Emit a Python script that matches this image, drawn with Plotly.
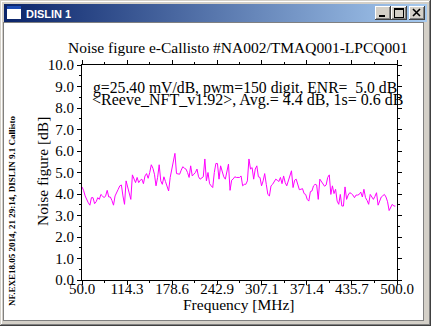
import base64
import plotly.graph_objects as go

# Receiver channel frequencies [MHz]
FREQ_MHZ = [
    50.0, 52.25, 54.5, 56.75, 59.0, 61.25, 63.5, 65.75,
    68.0, 70.25, 72.5, 74.75, 77.0, 79.25, 81.5, 83.75,
    86.0, 88.25, 90.5, 92.75, 95.0, 97.25, 99.5, 101.75,
    104.0, 106.25, 108.5, 110.75, 113.0, 115.25, 117.5, 119.75,
    122.0, 124.25, 126.5, 128.75, 131.0, 133.25, 135.5, 137.75,
    140.0, 142.25, 144.5, 146.75, 149.0, 151.25, 153.5, 155.75,
    158.0, 160.25, 162.5, 164.75, 167.0, 169.25, 171.5, 173.75,
    176.0, 178.25, 180.5, 182.75, 185.0, 187.25, 189.5, 191.75,
    194.0, 196.25, 198.5, 200.75, 203.0, 205.25, 207.5, 209.75,
    212.0, 214.25, 216.5, 218.75, 221.0, 223.25, 225.5, 227.75,
    230.0, 232.25, 234.5, 236.75, 239.0, 241.25, 243.5, 245.75,
    248.0, 250.25, 252.5, 254.75, 257.0, 259.25, 261.5, 263.75,
    266.0, 268.25, 270.5, 272.75, 275.0, 277.25, 279.5, 281.75,
    284.0, 286.25, 288.5, 290.75, 293.0, 295.25, 297.5, 299.75,
    302.0, 304.25, 306.5, 308.75, 311.0, 313.25, 315.5, 317.75,
    320.0, 322.25, 324.5, 326.75, 329.0, 331.25, 333.5, 335.75,
    338.0, 340.25, 342.5, 344.75, 347.0, 349.25, 351.5, 353.75,
    356.0, 358.25, 360.5, 362.75, 365.0, 367.25, 369.5, 371.75,
    374.0, 376.25, 378.5, 380.75, 383.0, 385.25, 387.5, 389.75,
    392.0, 394.25, 396.5, 398.75, 401.0, 403.25, 405.5, 407.75,
    410.0, 412.25, 414.5, 416.75, 419.0, 421.25, 423.5, 425.75,
    428.0, 430.25, 432.5, 434.75, 437.0, 439.25, 441.5, 443.75,
    446.0, 448.25, 450.5, 452.75, 455.0, 457.25, 459.5, 461.75,
    464.0, 466.25, 468.5, 470.75, 473.0, 475.25, 477.5, 479.75,
    482.0, 484.25, 486.5, 488.75, 491.0, 493.25, 495.5, 497.75,
]

# Measured noise figure per channel [dB]
NF_DB = [
    4.33, 4.17, 3.91, 3.70, 3.59, 3.48, 3.83, 3.83,
    3.55, 3.64, 3.83, 3.75, 3.98, 3.91, 3.83, 3.91,
    4.17, 3.86, 3.86, 3.70, 3.48, 3.91, 4.11, 4.22,
    4.38, 4.42, 3.91, 3.52, 4.61, 4.30, 3.98, 3.75,
    4.89, 4.69, 4.53, 4.77, 4.53, 4.64, 4.69, 4.48,
    4.84, 4.95, 4.73, 5.00, 5.36, 5.20, 4.92, 4.38,
    4.77, 5.36, 4.61, 4.45, 4.80, 4.58, 4.33, 4.14,
    4.77, 5.16, 5.55, 5.89, 4.95, 4.92, 4.92, 5.11,
    5.27, 5.20, 5.16, 5.00, 4.77, 5.31, 4.84, 4.92,
    5.00, 5.16, 4.80, 4.69, 4.77, 4.80, 5.63, 4.61,
    5.00, 4.48, 4.38, 4.30, 5.00, 5.42, 5.42, 4.69,
    5.31, 5.00, 4.80, 4.69, 5.00, 5.39, 4.17, 4.64,
    4.70, 4.80, 4.77, 4.77, 4.77, 4.84, 4.38, 4.45,
    4.45, 4.61, 5.63, 5.16, 5.23, 4.69, 5.16, 5.31,
    4.80, 4.77, 4.38, 4.61, 4.95, 4.45, 3.98, 3.91,
    4.38, 4.45, 4.58, 4.69, 4.64, 4.58, 4.77, 4.48,
    4.84, 4.53, 4.38, 4.64, 4.92, 5.08, 4.30, 4.64,
    4.69, 4.38, 4.20, 4.22, 4.25, 4.02, 3.98, 3.75,
    3.67, 4.11, 4.14, 4.38, 4.45, 4.42, 3.75, 4.69,
    4.58, 4.53, 4.36, 4.42, 4.77, 4.89, 3.98, 4.38,
    4.02, 4.22, 3.67, 3.52, 3.98, 3.44, 3.44, 4.33,
    3.75, 3.95, 4.06, 4.02, 3.95, 3.83, 3.95, 3.95,
    3.98, 4.09, 3.86, 4.22, 3.83, 3.70, 3.52, 3.98,
    3.86, 3.75, 3.89, 4.06, 3.48, 3.67, 3.86, 3.92,
    3.98, 3.86, 3.64, 3.23, 3.39, 3.52, 3.44, 3.44,
]

XTICK_LABELS = ["50.0", "114.3", "178.6", "242.9", "307.1", "371.4", "435.7", "500.0"]
YTICK_LABELS = ["0.0", "1.0", "2.0", "3.0", "4.0", "5.0", "6.0", "7.0", "8.0", "9.0", "10.0"]

WINDOW_TITLE = "DISLIN 1"
PLOT_TITLE = "Noise figure e-Callisto #NA002/TMAQ001-LPCQ001"
INFO_LINES = [
    "g=25.40 mV/dB, pwm=150 digit, ENR=\u00a0 5.0 dB",
    "&lt;Reeve_NFT_v1.92&gt;, Avg.= 4.4 dB, 1s= 0.6 dB",
]
X_TITLE = "Frequency [MHz]"
Y_TITLE = "Noise figure [dB]"
STAMP = "NF.EXE18.05 2014, 21 29:14, DISLIN 9.1 Callisto"

# ---- page geometry (pixels) ----
W, H = 431, 326
ML, MR, MT, MB = 82, 34, 65, 46
PW, PH = W - ML - MR, H - MT - MB


def px_x(px):
    return (px - ML) / PW


def px_y(py):
    return 1 - (py - MT) / PH


SERIF = "Liberation Serif, Times New Roman, serif"
INK = "#000000"

# ---- window frame drawn as one vector background ----
def button(x, y, glyph):
    w, h = 16, 14
    parts = [
        f'<rect x="{x}" y="{y}" width="{w}" height="{h}" fill="#404040"/>',
        f'<rect x="{x}" y="{y}" width="{w-1}" height="{h-1}" fill="#ffffff"/>',
        f'<rect x="{x+1}" y="{y+1}" width="{w-2}" height="{h-2}" fill="#808080"/>',
        f'<rect x="{x+1}" y="{y+1}" width="{w-3}" height="{h-3}" fill="#d4d0c8"/>',
    ]
    if glyph == "min":
        parts.append(f'<rect x="{x+4}" y="{y+9}" width="6" height="2" fill="#000"/>')
    elif glyph == "max":
        parts.append(f'<rect x="{x+3}" y="{y+2}" width="9" height="9" fill="none" stroke="#000" stroke-width="1" transform="translate(0.5,0.5)"/>')
        parts.append(f'<rect x="{x+3}" y="{y+3}" width="10" height="1" fill="#000"/>')
    else:
        parts.append(f'<path d="M{x+4} {y+3} L{x+11} {y+10} M{x+11} {y+3} L{x+4} {y+10}" stroke="#000" stroke-width="1.6" shape-rendering="auto"/>')
    return "".join(parts)


svg = (
    f'<svg xmlns="http://www.w3.org/2000/svg" width="{W}" height="{H}" viewBox="0 0 {W} {H}" shape-rendering="crispEdges">'
    '<defs><linearGradient id="tb" x1="0" y1="0" x2="1" y2="0">'
    '<stop offset="0" stop-color="#0a246a"/><stop offset="1" stop-color="#a6caf0"/>'
    '</linearGradient></defs>'
    f'<rect x="0" y="0" width="{W}" height="{H}" fill="#d4d0c8"/>'
    f'<rect x="1" y="1" width="{W-2}" height="1" fill="#ffffff"/>'
    f'<rect x="1" y="1" width="1" height="{H-2}" fill="#ffffff"/>'
    f'<rect x="0" y="{H-1}" width="{W}" height="1" fill="#404040"/>'
    f'<rect x="{W-1}" y="0" width="1" height="{H}" fill="#404040"/>'
    f'<rect x="1" y="{H-2}" width="{W-2}" height="1" fill="#808080"/>'
    f'<rect x="{W-2}" y="1" width="1" height="{H-2}" fill="#808080"/>'
    '<rect x="4" y="4" width="423" height="18" fill="url(#tb)"/>'
    '<rect x="3" y="22" width="421" height="299" fill="#808080"/>'
    '<rect x="4" y="23" width="419" height="297" fill="#ffffff"/>'
    '<rect x="7" y="6" width="14" height="13" fill="#ffffff"/>'
    '<rect x="7" y="6" width="14" height="3" fill="#1c4bb4"/>'
    + button(375, 6, "min")
    + button(391, 6, "max")
    + button(409, 6, "close")
    + '</svg>'
)
frame_src = "data:image/svg+xml;base64," + base64.b64encode(svg.encode()).decode()

fig = go.Figure()
fig.add_trace(
    go.Scatter(
        x=FREQ_MHZ,
        y=NF_DB,
        mode="lines",
        line=dict(color="#ff00ff", width=1),
        hoverinfo="skip",
        showlegend=False,
    )
)

xtickvals = [float(t) for t in XTICK_LABELS]
ytickvals = [float(t) for t in YTICK_LABELS]
xminor = [(a + b) / 2 for a, b in zip(xtickvals[:-1], xtickvals[1:])]
yminor = [(a + b) / 2 for a, b in zip(ytickvals[:-1], ytickvals[1:])]

axis_common = dict(
    showgrid=False,
    zeroline=False,
    showline=True,
    linecolor=INK,
    linewidth=1,
    mirror="ticks",
    ticks="outside",
    ticklen=4,
    tickwidth=1,
    tickcolor=INK,
    tickfont=dict(family=SERIF, size=15, color=INK),
)

fig.update_xaxes(
    range=[50, 500],
    tickmode="array",
    tickvals=xtickvals,
    ticktext=XTICK_LABELS,
    ticklabelstandoff=-9,
    minor=dict(tickmode="array", tickvals=xminor, ticklen=2, tickcolor=INK, ticks="outside"),
    **axis_common,
)
fig.update_yaxes(
    range=[0, 10],
    tickmode="array",
    tickvals=ytickvals,
    ticktext=YTICK_LABELS,
    minor=dict(tickmode="array", tickvals=yminor, ticklen=2, tickcolor=INK, ticks="outside"),
    **axis_common,
)

annotations = [
    dict(text=PLOT_TITLE, x=px_x(238), y=px_y(47), font=dict(family=SERIF, size=15.5, color=INK)),
    dict(text=INFO_LINES[0], x=px_x(92), y=px_y(87.5), xanchor="left",
         font=dict(family=SERIF, size=15.7, color=INK)),
    dict(text=INFO_LINES[1], x=px_x(91), y=px_y(99.5), xanchor="left",
         font=dict(family=SERIF, size=16, color=INK)),
    dict(text=X_TITLE, x=px_x(238.5), y=px_y(304.5), font=dict(family=SERIF, size=15.5, color=INK)),
    dict(text=Y_TITLE, x=px_x(42), y=px_y(172), textangle=-90,
         font=dict(family=SERIF, size=15.5, color=INK)),
    dict(text="<b>" + STAMP + "</b>", x=px_x(12), y=px_y(211), textangle=-90,
         font=dict(family=SERIF, size=9, color=INK)),
    dict(text="<b>" + WINDOW_TITLE + "</b>", x=px_x(25), y=px_y(13.5), xanchor="left",
         font=dict(family="Liberation Sans, Arial, sans-serif", size=11, color="#ffffff")),
]
for a in annotations:
    a.setdefault("xanchor", "center")
    a.update(xref="paper", yref="paper", yanchor="middle", showarrow=False, borderpad=0)

fig.update_layout(
    width=W,
    height=H,
    autosize=False,
    margin=dict(l=ML, r=MR, t=MT, b=MB, pad=0),
    paper_bgcolor="#d4d0c8",
    plot_bgcolor="#ffffff",
    annotations=annotations,
    images=[dict(
        source=frame_src, xref="paper", yref="paper",
        x=px_x(0), y=px_y(0), sizex=W / PW, sizey=H / PH,
        xanchor="left", yanchor="top", sizing="stretch", layer="below",
    )],
)

fig.write_html("out.html", config={"displayModeBar": False, "staticPlot": True})
